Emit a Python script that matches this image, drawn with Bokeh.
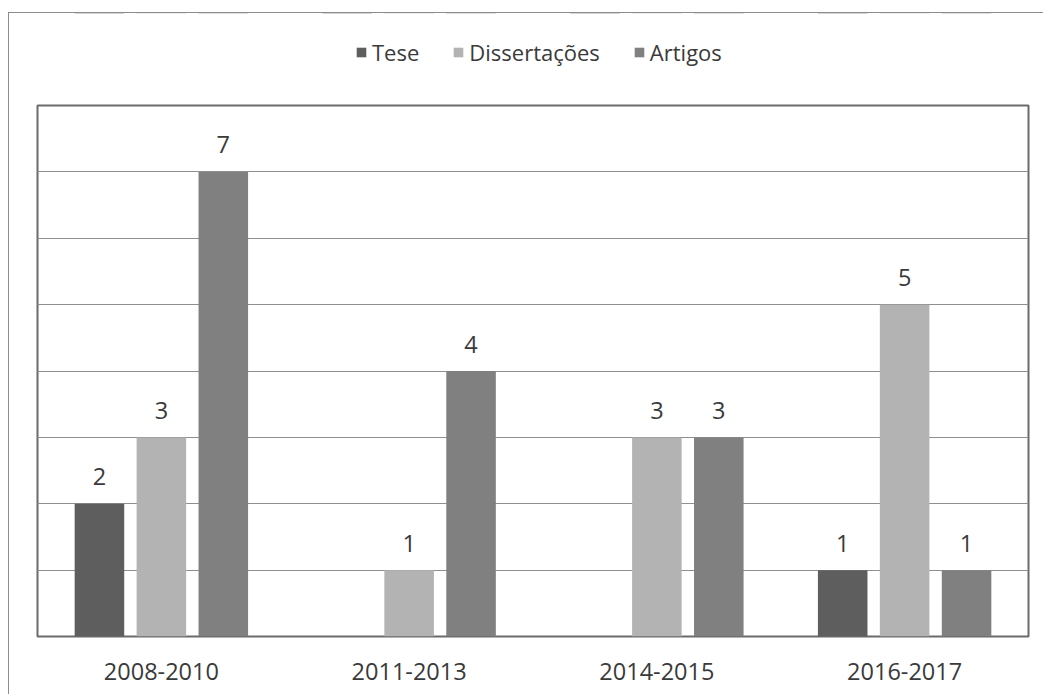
from bokeh.plotting import figure
from bokeh.layouts import column
from bokeh.models import ColumnDataSource, FactorRange, FixedTicker, Legend, LegendItem
from bokeh.transform import dodge
from bokeh.core.properties import value
from bokeh.embed import file_html
from bokeh.resources import INLINE

# Publications per period
periods = ["2008-2010", "2011-2013", "2014-2015", "2016-2017"]
series_names = ["Tese", "Dissertações", "Artigos"]
tese = [2, 0, 0, 1]
dissertacoes = [3, 1, 3, 5]
artigos = [7, 4, 3, 1]
y_ticks = [0, 1, 2, 3, 4, 5, 6, 7, 8]

colors = ["#5e5e5e", "#b3b3b3", "#808080"]
offsets = [-0.25, 0.0, 0.25]
fields = ["tese", "dissertacoes", "artigos"]
FONT = "Open Sans"
TEXT_COLOR = "#3a3a3a"
WIDTH = 1034

src = ColumnDataSource(dict(
    period=periods,
    tese=tese,
    dissertacoes=dissertacoes,
    artigos=artigos,
    tese_lbl=[str(v) if v else "" for v in tese],
    dissertacoes_lbl=[str(v) if v else "" for v in dissertacoes],
    artigos_lbl=[str(v) if v else "" for v in artigos],
))

# main bar chart
p = figure(
    x_range=FactorRange(*periods, range_padding=0),
    y_range=(0, max(y_ticks)),
    width=WIDTH, height=590,
    output_backend="svg", toolbar_location=None,
    min_border_left=28, min_border_right=15,
    min_border_top=1, min_border_bottom=58,
    background_fill_color="white", border_fill_color="white",
)

p.outline_line_color = "#6b6b6b"
p.outline_line_width = 2
p.xgrid.visible = False
p.ygrid.ticker = FixedTicker(ticks=y_ticks)
p.ygrid.grid_line_color = "#8f8f8f"
p.ygrid.grid_line_width = 1
p.yaxis.visible = False

ax = p.xaxis[0]
ax.axis_line_color = None
ax.major_tick_line_color = None
ax.minor_tick_line_color = None
ax.major_tick_out = 0
ax.major_label_standoff = 26
ax.major_label_text_font = FONT
ax.major_label_text_font_size = "23.5px"
ax.major_label_text_color = TEXT_COLOR

for f, c, off in zip(fields, colors, offsets):
    p.vbar(x=dodge("period", off, range=p.x_range), top=f, width=0.2,
           source=src, fill_color=c, line_color=None)
    p.text(x=dodge("period", off, range=p.x_range), y=f, text=f + "_lbl",
           source=src, text_align="center", text_baseline="middle",
           y_offset=-27, text_font=value(FONT), text_font_size="23.5px",
           text_color=TEXT_COLOR)

# legend strip above the chart; its bars sit below the visible range
lg = figure(
    width=WIDTH, height=91,
    x_range=FactorRange(*periods), y_range=(-2, -1),
    output_backend="svg", toolbar_location=None,
    min_border=0, background_fill_color="white", border_fill_color="white",
)
lg.outline_line_color = None
lg.axis.visible = False
lg.grid.visible = False
swatches = [
    lg.vbar(x=dodge("period", off, range=lg.x_range), top=f, width=0.2,
            source=src, fill_color=c, line_color=None)
    for f, c, off in zip(fields, colors, offsets)
]

legend = Legend(
    items=[LegendItem(label=n, renderers=[r]) for n, r in zip(series_names, swatches)],
    orientation="horizontal", location=(318, 37),
    glyph_width=12, glyph_height=12, label_standoff=5, spacing=33,
    label_text_font=FONT, label_text_font_size="22px", label_text_color=TEXT_COLOR,
    border_line_color=None, background_fill_alpha=0, padding=0, margin=0,
)
lg.add_layout(legend, "center")

layout = column(lg, p, spacing=0)
layout.styles = {
    "margin-left": "8px", "margin-top": "12px",
    "border-left": "1px solid #8c8c8c", "border-top": "1px solid #8c8c8c",
}

open("out.html", "w").write(file_html(layout, INLINE))
